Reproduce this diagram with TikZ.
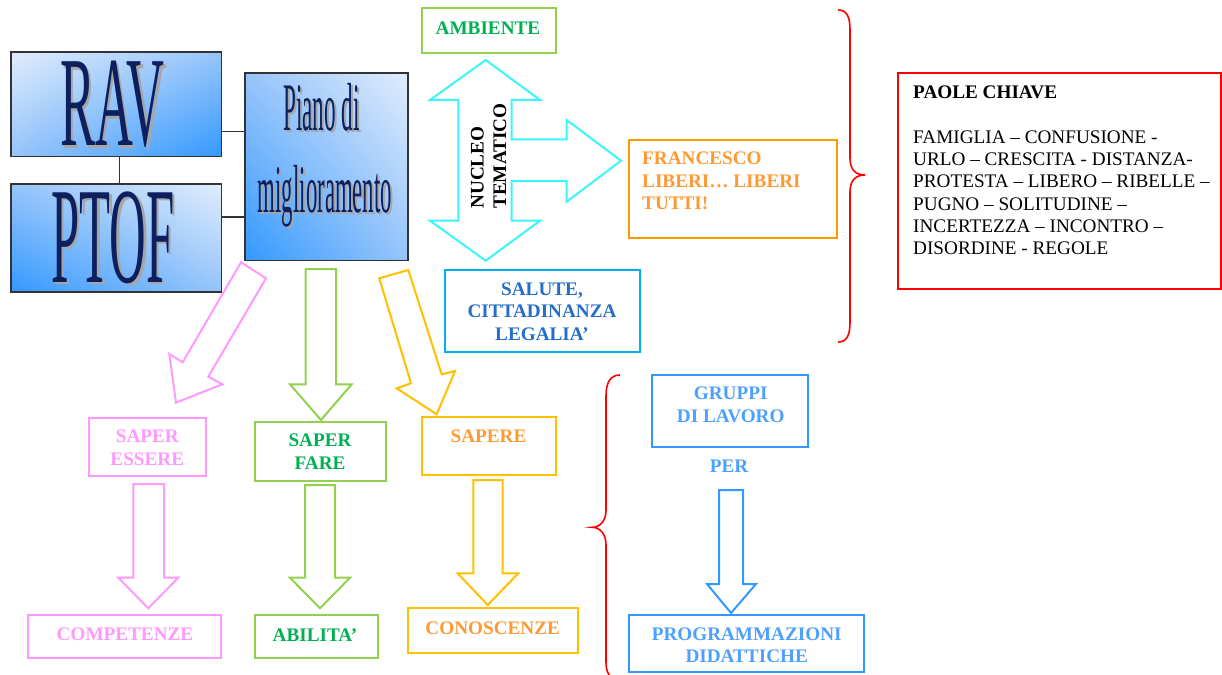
\documentclass[tikz,border=0pt]{standalone}
\usepackage{fontspec}
\usepackage{graphicx}
\setmainfont{Liberation Serif}
\usetikzlibrary{fit,shadings}
\definecolor{pinkc}{RGB}{255,153,255}
\definecolor{greenc}{RGB}{146,208,80}
\definecolor{greent}{RGB}{0,176,80}
\definecolor{orangec}{RGB}{255,192,0}
\definecolor{oranget}{RGB}{255,153,51}
\definecolor{orangeb}{RGB}{255,153,0}
\definecolor{cyanc}{RGB}{60,245,250}
\definecolor{skyc}{RGB}{0,176,240}
\definecolor{skyt}{RGB}{36,110,200}
\definecolor{bluec}{RGB}{51,153,255}
\definecolor{bluet}{RGB}{77,160,255}
\definecolor{redc}{RGB}{255,0,0}
\definecolor{navy}{RGB}{12,32,96}
\definecolor{lightb}{RGB}{224,236,252}
\definecolor{midb}{RGB}{150,196,250}
\definecolor{darkb}{RGB}{51,153,255}
\definecolor{boxline}{RGB}{50,50,55}
\newcommand\lblfont{\fontsize{19.2}{22.5}\selectfont\bfseries}
\newcommand\kwfont{\fontsize{19.2}{22.3}\selectfont}
\newcommand\ravfont{\fontsize{128}{128}\selectfont}
\newcommand\ptoffont{\fontsize{137}{137}\selectfont}
\newcommand\pianofont{\fontsize{68}{68}\selectfont}
\tikzset{
  frame/.style={draw=#1, line width=2pt, inner sep=0pt},
  lbl/.style={text=#1, font=\lblfont, align=center, inner sep=0pt},
  blockarrow/.style={draw=#1, line width=2pt, line join=miter, fill=white},
  bigbox/.style={draw=boxline, line width=1.3pt, inner sep=0pt},
  conn/.style={draw=boxline, line width=1.2pt},
  brace/.style={draw=redc, line width=1.6pt},
}
\begin{document}
\begin{tikzpicture}[x=1pt,y=-1pt]
\useasboundingbox (0,0) rectangle (1222,674);

% ---- RAV / PTOF / Piano di miglioramento
\node[bigbox, fit={(11,52) (221.5,156.5)}, upper left=lightb, upper right=midb, lower left=midb, lower right=darkb] (rav) {};
\node[bigbox, fit={(11,184) (221.5,292)}, upper left=midb, upper right=lightb, lower left=darkb, lower right=midb] (ptof) {};
\node[bigbox, fit={(245,73) (408,260.5)}, upper left=midb, upper right=lightb, lower left=darkb, lower right=midb] (piano) {};
\draw[conn] ([xshift=3pt]rav.south) -- ([xshift=3pt]ptof.north);
\draw[conn] ([yshift=-27pt]rav.east) -- ([yshift=-27pt]rav.east -| piano.west);
\draw[conn] ([yshift=21pt]ptof.east) -- ([yshift=21pt]ptof.east -| piano.west);

\node[text=gray!70, font=\ravfont, inner sep=0] (ravsh) at (115,107) {\scalebox{0.41}[1]{RAV}};
\node[text=navy, font=\ravfont, inner sep=0] (ravt) at (112.5,104.5) {\scalebox{0.41}[1]{RAV}};
\node[text=gray!70, font=\ptoffont, inner sep=0] (ptofsh) at (115.5,240) {\scalebox{0.37}[1]{PTOF}};
\node[text=navy, font=\ptoffont, inner sep=0] (ptoft) at (113,237.5) {\scalebox{0.37}[1]{PTOF}};
\node[text=gray!70, font=\pianofont, inner sep=0, anchor=base] (p1sh) at (323.5,132) {\scalebox{0.34}[1]{Piano di}};
\node[text=navy, font=\pianofont, inner sep=0, anchor=base] (p1t) at (321.5,130) {\scalebox{0.34}[1]{Piano di}};
\node[text=gray!70, font=\pianofont, inner sep=0, anchor=base] (p2sh) at (327,214) {\scalebox{0.335}[1]{miglioramento}};
\node[text=navy, font=\pianofont, inner sep=0, anchor=base] (p2t) at (325,212) {\scalebox{0.335}[1]{miglioramento}};

% ---- Nucleo tematico (cyan four-way arrow)
\draw[blockarrow=cyanc] (485.7,60) -- (540,100) -- (511.7,100) -- (511.7,139.3) -- (566.7,139.3) -- (566.7,120) -- (621,160.7) -- (566.7,201.7) -- (566.7,181) -- (511.7,181) -- (511.7,220.7) -- (540,220.7) -- (485.7,260.7) -- (430,220.7) -- (458.3,220.7) -- (458.3,100) -- (430,100) -- cycle;
\node[rotate=90, align=left, font=\lblfont, inner sep=0] (nuc) at (488.7,156) {NUCLEO\\TEMATICO};

\node[frame=greenc, fit={(422,8) (556,53)}] (amb) {};
\node[lbl=greent] (ambt) at (488,28.5) {AMBIENTE};

\node[frame=orangeb, fit={(629,140) (837,238)}] (fra) {};
\node[lbl=oranget, align=left, anchor=north west] (frat) at (642,151.6) {FRANCESCO\\LIBERI… LIBERI\\TUTTI!};

\node[frame=skyc, fit={(445,270) (640,352.3)}] (sal) {};
\node[lbl=skyt] (salt) at (542,311.5) {SALUTE,\\CITTADINANZA\\LEGALIA’};

% ---- right brace and keywords
\draw[brace] (838,10) .. controls (847,10) and (850,17) .. (850,30) -- (850,158) .. controls (850,169) and (855,175) .. (865,175) .. controls (855,175) and (850,181) .. (850,192) -- (850,322) .. controls (850,335) and (847,342) .. (838,342);
\node[frame=redc, fit={(898,73) (1220.5,289)}] (kw) {};
\node[anchor=north west, inner sep=0, align=left, font=\kwfont] (kwt) at (913,85.6) {\textbf{PAOLE CHIAVE}\\[22.3pt]FAMIGLIA – CONFUSIONE -\\URLO – CRESCITA - DISTANZA-\\PROTESTA – LIBERO – RIBELLE –\\PUGNO – SOLITUDINE –\\INCERTEZZA – INCONTRO –\\DISORDINE - REGOLE};

% ---- arrows from Piano
\draw[blockarrow=pinkc] (241,262.3) -- (266,278.3) -- (208.3,376.7) -- (222.3,384.3) -- (176,402.7) -- (169.3,354) -- (182.7,362.3) -- cycle;
\draw[blockarrow=greenc] (305.7,269) -- (336,269) -- (336,384.3) -- (351.7,384.3) -- (321,420) -- (290,384.3) -- (305.7,384.3) -- cycle;
\draw[blockarrow=orangec] (379.3,278.3) -- (408.3,270) -- (441.7,374.3) -- (455,371) -- (436.7,414.3) -- (396.7,388.3) -- (411,383.3) -- cycle;

% ---- middle boxes
\node[frame=pinkc, fit={(89.3,418.3) (205.5,476)}] (se) {};
\node[lbl=pinkc] (set) at (147.3,447.9) {SAPER\\ESSERE};
\node[frame=greenc, fit={(255,421.7) (386,480.7)}] (sf) {};
\node[lbl=greent] (sft) at (320,451.5) {SAPER\\FARE};
\node[frame=orangec, fit={(421.7,417.3) (555.7,475)}] (sa) {};
\node[lbl=oranget] (sat) at (488.5,436.7) {SAPERE};

% ---- lower arrows
\draw[blockarrow=pinkc] (133.3,484) -- (164,484) -- (164,577.7) -- (178.3,577.7) -- (148.3,608.3) -- (118.3,577.7) -- (133.3,577.7) -- cycle;
\draw[blockarrow=greenc] (305,485) -- (335,485) -- (335,577.7) -- (350,577.7) -- (320,608.3) -- (290,577.7) -- (305,577.7) -- cycle;
\draw[blockarrow=orangec] (473.3,480) -- (502.7,480) -- (502.7,573.3) -- (518.3,573.3) -- (487.7,605) -- (457.7,573.3) -- (473.3,573.3) -- cycle;

% ---- bottom boxes
\node[frame=pinkc, fit={(28.3,615) (221,658.3)}] (co) {};
\node[lbl=pinkc] (cot) at (125,634.3) {COMPETENZE};
\node[frame=greenc, fit={(255,615) (378.3,657.5)}] (ab) {};
\node[lbl=greent] (abt) at (315,634.8) {ABILITA’};
\node[frame=orangec, fit={(408.3,608.3) (577.7,652.7)}] (cn) {};
\node[lbl=oranget] (cnt) at (492.7,628.3) {CONOSCENZE};

% ---- left brace and work groups
\draw[brace] (620,375) .. controls (610,375) and (606,383) .. (606,396) -- (606,510) .. controls (606,521) and (600,527.3) .. (592,527.3) .. controls (600,527.3) and (606,534) .. (606,545) -- (606,662) .. controls (606,673) and (610,680) .. (620,680);
\node[frame=bluec, fit={(652,375) (808,447)}] (gr) {};
\node[lbl=bluet] (grt) at (730.7,405) {GRUPPI\\DI LAVORO};
\node[lbl=bluet] (per) at (729,466) {PER};
\draw[blockarrow=bluec] (719,490) -- (743,490) -- (743,584) -- (756,584) -- (731,613) -- (707,584) -- (719,584) -- cycle;
\node[frame=bluec, fit={(629,615) (864,672)}] (pr) {};
\node[lbl=bluet] (prt) at (746.7,645) {PROGRAMMAZIONI\\DIDATTICHE};
\end{tikzpicture}
\end{document}
